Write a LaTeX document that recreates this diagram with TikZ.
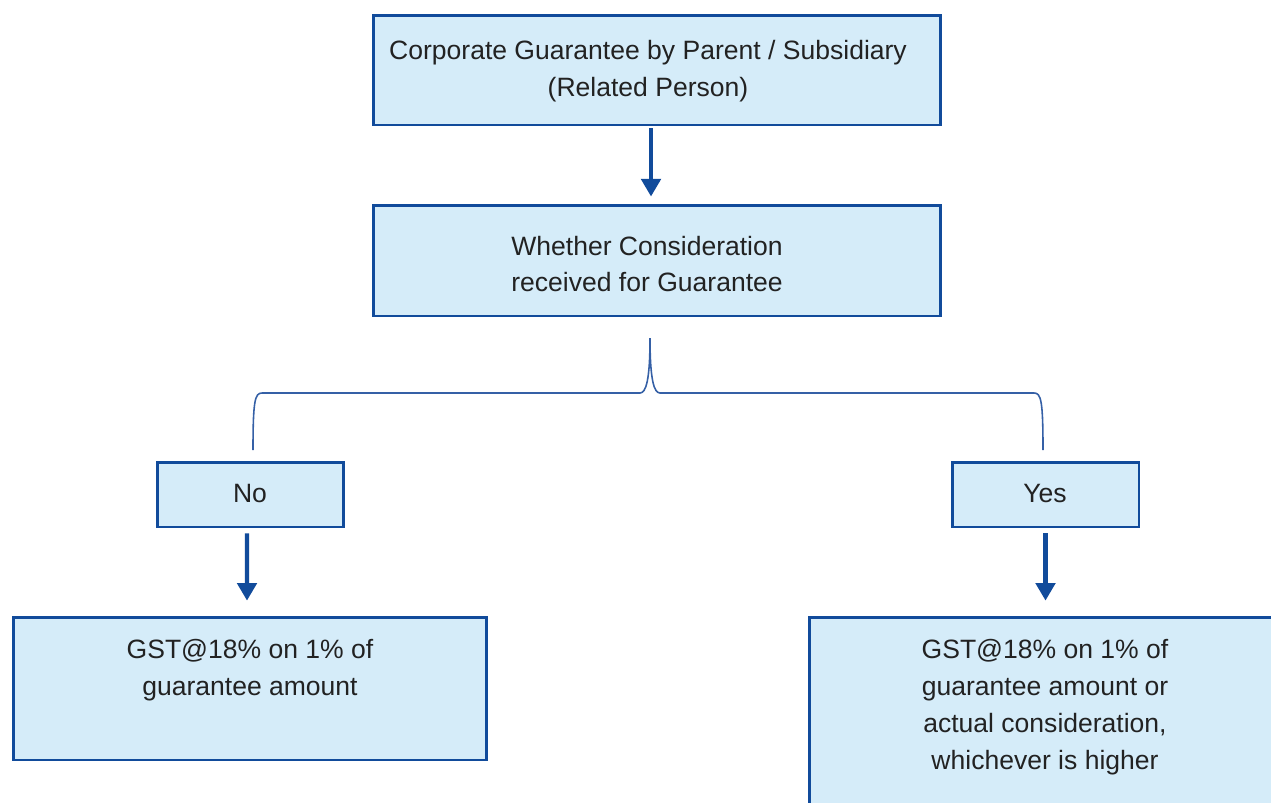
\documentclass[tikz,border=0pt]{standalone}
\usepackage{fontspec}
\setmainfont{Liberation Sans}
\usepackage{xcolor}
\usepackage{tikz}
\usetikzlibrary{calc,arrows.meta}
\definecolor{boxfill}{HTML}{D5ECF9}
\definecolor{boxline}{HTML}{114B9B}
\definecolor{bracecol}{HTML}{3560A6}
\definecolor{ink}{HTML}{222222}
\tikzset{
  box/.style={draw=boxline, fill=boxfill, line width=1.7pt, inner sep=0pt},
  lab/.style={text=ink, font=\fontsize{15.1}{21}\selectfont, align=center, inner sep=0pt},
  flow/.style={draw=boxline, line width=2.3pt, -{Triangle[length=10pt,width=11pt]}},
  brace/.style={draw=bracecol, line width=0.9pt},
}

\begin{document}
\begin{tikzpicture}[x=0.02cm, y=-0.02cm]
  \useasboundingbox (0,0) rectangle (1271,802);
  % boxes
  \node[box, minimum width=11.36cm, minimum height=2.2cm] (guar) at (657,70) {};
  \node[box, minimum width=11.36cm, minimum height=2.22cm] (consid) at (657,260.5) {};
  \node[box, minimum width=3.74cm, minimum height=1.3cm] (no) at (250.5,494.5) {};
  \node[box, minimum width=3.74cm, minimum height=1.3cm] (yes) at (1045.5,494.5) {};
  \node[box, minimum width=9.48cm, minimum height=2.86cm] (nores) at (250,688.5) {};
  \node[box, minimum width=9.46cm, minimum height=4.26cm] (yesres) at (1045.5,723.5) {};
  % texts
  \node[lab] (guarlbl) at (648,71) {Corporate Guarantee by Parent / Subsidiary\\(Related Person)};
  \node[lab] (considlbl) at (647,264) {Whether Consideration\\received for Guarantee};
  \node[lab] (nolbl) at (250,493.5) {No};
  \node[lab] (yeslbl) at (1045,493.5) {Yes};
  \node[lab] (noreslbl) at (250,670) {GST@18\% on 1\% of\\guarantee amount};
  \node[lab] (yesreslbl) at (1045,707) {GST@18\% on 1\% of\\guarantee amount or\\actual consideration,\\whichever is higher};
  % arrows
  \draw[flow, shorten <=1.1pt, shorten >=4pt] ([xshift=-0.12cm]guar.south) -- ([xshift=-0.12cm]consid.north);
  \draw[flow, shorten <=2.8pt, shorten >=8.5pt] ([xshift=-0.07cm]no.south) -- ([xshift=-0.06cm]nores.north);
  \draw[flow, shorten <=2.8pt, shorten >=8.5pt] (yes.south) -- (yesres.north);
  % brace
  \coordinate (split) at (650,338);
  \draw[brace] (253,450) .. controls (253,400) and (255,393) .. (262,393) -- (640,393)
    .. controls (646,393) and (650,380) .. (split);
  \draw[brace] (split) .. controls (650,380) and (654,393) .. (660,393) -- (1034,393)
    .. controls (1041,393) and (1043,400) .. (1043,450);
\end{tikzpicture}
\end{document}
